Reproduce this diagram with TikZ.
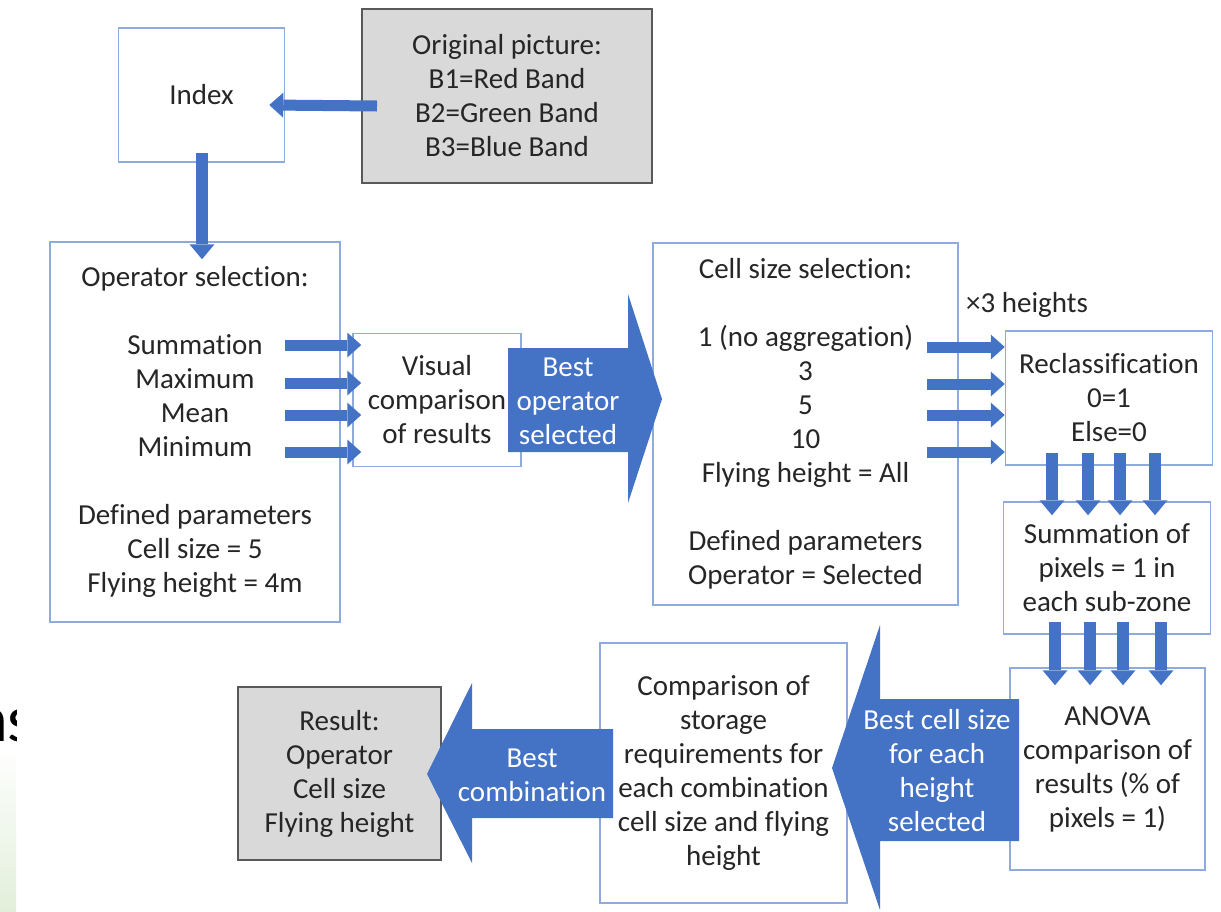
\documentclass[tikz,border=0pt]{standalone}
\usepackage{fontspec}
\setmainfont{Carlito}[Ligatures=NoCommon]
\usetikzlibrary{arrows.meta}
\definecolor{arrblue}{HTML}{4472C4}
\definecolor{boxblue}{HTML}{8FAADC}
\definecolor{boxgray}{HTML}{D9D9D9}
\definecolor{graybd}{HTML}{595959}
\definecolor{txt}{HTML}{262626}
\definecolor{leafgreen}{HTML}{E2EFDA}
\begin{document}
\begin{tikzpicture}[x=1pt,y=-1pt,
  every node/.style={font=\fontsize{29}{34}\selectfont, text=txt, inner sep=0pt, align=center},
  bluebox/.style={draw=boxblue, line width=1.5pt, fill=white},
  graybox/.style={draw=graybd, line width=2pt, fill=boxgray},
  thinarr/.style={draw=arrblue, line width=11pt, -{Triangle[width=25pt,length=14pt,line width=0pt]}},
  vertarr/.style={draw=arrblue, line width=12pt, -{Triangle[width=25pt,length=15pt,line width=0pt]}},
  bigarr/.style={fill=arrblue},
  arrtext/.style={text=white}]

\useasboundingbox (0,0) rectangle (1221,911);

% left edge fragment
\begin{scope}
  \clip (0,680) rectangle (16,911);
  \shade[top color=white, bottom color=leafgreen] (0,745) rectangle (16,911);
  \node[anchor=base west, font=\fontsize{66}{70}\selectfont, text=black] (frag) at (-27,741) {ns};
\end{scope}

% boxes
\node[bluebox, minimum width=166pt, minimum height=134pt] (idx) at (201.5,95) {Index};
\node[graybox, minimum width=290pt, minimum height=174pt] (orig) at (507,96) {Original picture:\\B1=Red Band\\B2=Green Band\\B3=Blue Band};
\node[bluebox, minimum width=290pt, minimum height=380pt] (opsel) at (195,432) {Operator selection:\\[34pt]Summation\\Maximum\\Mean\\Minimum\\[34pt]Defined parameters\\Cell size = 5\\Flying height = 4m};
\node[bluebox, minimum width=168pt, minimum height=133pt] (vis) at (437,400) {Visual\\comparison\\of results};
\node[bluebox, minimum width=305pt, minimum height=362pt] (cell) at (805.5,424) {Cell size selection:\\[34pt]1 (no aggregation)\\3\\5\\10\\Flying height = All\\[34pt]Defined parameters\\Operator = Selected};
\node[bluebox, minimum width=207pt, minimum height=134pt] (recl) at (1109,398) {Reclassification\\0=1\\Else=0};
\node[bluebox, minimum width=207pt, minimum height=132pt] (summ) at (1107,568) {Summation of\\pixels = 1 in\\each sub-zone};
\node[bluebox, minimum width=195pt, minimum height=202pt] (anova) at (1107.5,769) {ANOVA\\comparison of\\results (\% of\\pixels = 1)};
\node[bluebox, minimum width=247pt, minimum height=260pt] (comp) at (723.5,773) {Comparison of\\storage\\requirements for\\each combination\\cell size and flying\\height};
\node[graybox, minimum width=203pt, minimum height=173pt] (res) at (339.5,773.5) {Result:\\Operator\\Cell size\\Flying height};
\node[anchor=west] (times) at (966,305) {×3 heights};

% index arrows
\draw[thinarr] ([shift={(16,10)}]orig.west) -- ([shift={(-16,10)}]idx.east);
\draw[vertarr] ([shift={(0.5,-10)}]idx.south) -- ([shift={(7,18)}]opsel.north);

% operator arrows
\path ([xshift=9pt]vis.west) coordinate (vtip);
\foreach \y/\n in {345/o1,383/o2,415/o3,452/o4}{
  \coordinate (\n) at (285,\y);
  \draw[thinarr] (\n) -- (vtip |- \n);
}
% cell size arrows
\foreach \y/\n in {347/c1,384/c2,415/c3,452/c4}{
  \coordinate (\n) at (927,\y);
  \draw[thinarr] (\n) -- (recl.west |- \n);
}
% down arrows
\foreach \x/\n in {1052/r1,1088/r2,1120/r3,1155/r4}{
  \coordinate (\n) at (\x,453);
  \draw[vertarr] (\n) -- ([yshift=-14pt]summ.north -| \n);
}
\foreach \x/\n in {1055/s1,1090/s2,1123/s3,1161/s4}{
  \coordinate (\n) at (\x,622);
  \draw[vertarr] (\n) -- ([yshift=-18pt]anova.north -| \n);
}

% big block arrows
\fill[arrblue] (508,348) -- (628,348) -- (628,294) -- (662,399) -- (628,503) -- (628,452) -- (508,452) -- cycle;
\node[arrtext] (a1t) at (568,401) {Best\\operator\\selected};
\fill[arrblue] (1019,699) -- (880,699) -- (880,625) -- (832,768) -- (880,910) -- (880,841) -- (1019,841) -- cycle;
\node[arrtext] (a2t) at (937,771) {Best cell size\\for each\\height\\selected};
\fill[arrblue] (613,729) -- (472,729) -- (472,683) -- (427,774) -- (472,863) -- (472,818) -- (613,818) -- cycle;
\node[arrtext] (a3t) at (532,775.5) {Best\\combination};
\end{tikzpicture}
\end{document}
